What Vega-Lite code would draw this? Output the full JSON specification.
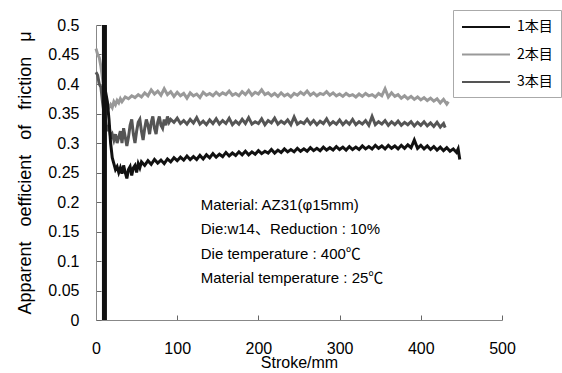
{
  "$schema": "https://vega.github.io/schema/vega-lite/v6.json",
  "width": 406,
  "height": 295,
  "autosize": {"type": "none"},
  "padding": {"left": 96, "top": 25, "right": 60, "bottom": 53},
  "background": "white",
  "config": {
    "view": {"stroke": null},
    "font": "Liberation Sans",
    "axis": {
      "grid": false,
      "domainColor": "#888",
      "tickColor": "#666",
      "labelColor": "#000",
      "titleColor": "#000",
      "labelFont": "Liberation Sans",
      "titleFont": "Liberation Sans",
      "labelFontSize": 16,
      "titleFontSize": 16,
      "titleFontWeight": "normal",
      "tickSize": -5,
      "labelOverlap": false,
      "labelFlush": false
    }
  },
  "datasets": {
    "spike": [{"run": "1本目", "s": 10.4, "lo": 0, "hi": 0.5}],
    "curves": [
      {"run":"2本目","s":0,"mu":0.46},{"run":"2本目","s":2,"mu":0.45},{"run":"2本目","s":4,"mu":0.445},{"run":"2本目","s":6,"mu":0.43},{"run":"2本目","s":8,"mu":0.41},{"run":"2本目","s":10,"mu":0.39},{"run":"2本目","s":12,"mu":0.375},{"run":"2本目","s":14,"mu":0.365},{"run":"2本目","s":16,"mu":0.36},{"run":"2本目","s":18,"mu":0.365},{"run":"2本目","s":20,"mu":0.36},{"run":"2本目","s":22,"mu":0.37},{"run":"2本目","s":24,"mu":0.365},{"run":"2本目","s":26,"mu":0.372},{"run":"2本目","s":28,"mu":0.368},{"run":"2本目","s":30,"mu":0.375},
      {"run":"2本目","s":32,"mu":0.37},{"run":"2本目","s":36,"mu":0.378},{"run":"2本目","s":40,"mu":0.375},{"run":"2本目","s":44,"mu":0.38},{"run":"2本目","s":48,"mu":0.377},{"run":"2本目","s":52,"mu":0.382},{"run":"2本目","s":56,"mu":0.378},{"run":"2本目","s":60,"mu":0.385},{"run":"2本目","s":64,"mu":0.38},{"run":"2本目","s":68,"mu":0.39},{"run":"2本目","s":72,"mu":0.383},{"run":"2本目","s":76,"mu":0.388},{"run":"2本目","s":80,"mu":0.381},{"run":"2本目","s":84,"mu":0.392},{"run":"2本目","s":88,"mu":0.382},{"run":"2本目","s":92,"mu":0.387},{"run":"2本目","s":96,"mu":0.379},{"run":"2本目","s":100,"mu":0.386},{"run":"2本目","s":104,"mu":0.38},{"run":"2本目","s":108,"mu":0.384},{"run":"2本目","s":112,"mu":0.376},{"run":"2本目","s":116,"mu":0.385},{"run":"2本目","s":120,"mu":0.38},{"run":"2本目","s":124,"mu":0.383},{"run":"2本目","s":128,"mu":0.377},{"run":"2本目","s":132,"mu":0.386},{"run":"2本目","s":136,"mu":0.381},{"run":"2本目","s":140,"mu":0.384},{"run":"2本目","s":144,"mu":0.38},{"run":"2本目","s":148,"mu":0.386},{"run":"2本目","s":152,"mu":0.381},{"run":"2本目","s":156,"mu":0.385},{"run":"2本目","s":160,"mu":0.382},{"run":"2本目","s":164,"mu":0.388},{"run":"2本目","s":168,"mu":0.381},{"run":"2本目","s":172,"mu":0.384},{"run":"2本目","s":176,"mu":0.38},{"run":"2本目","s":180,"mu":0.387},{"run":"2本目","s":184,"mu":0.382},{"run":"2本目","s":188,"mu":0.389},{"run":"2本目","s":192,"mu":0.381},{"run":"2本目","s":196,"mu":0.386},{"run":"2本目","s":200,"mu":0.383},{"run":"2本目","s":204,"mu":0.39},{"run":"2本目","s":208,"mu":0.382},{"run":"2本目","s":212,"mu":0.385},{"run":"2本目","s":216,"mu":0.38},{"run":"2本目","s":220,"mu":0.384},{"run":"2本目","s":224,"mu":0.379},{"run":"2本目","s":228,"mu":0.385},{"run":"2本目","s":232,"mu":0.38},{"run":"2本目","s":236,"mu":0.383},{"run":"2本目","s":240,"mu":0.378},{"run":"2本目","s":244,"mu":0.384},{"run":"2本目","s":248,"mu":0.381},{"run":"2本目","s":252,"mu":0.386},{"run":"2本目","s":256,"mu":0.382},{"run":"2本目","s":260,"mu":0.388},{"run":"2本目","s":264,"mu":0.381},{"run":"2本目","s":268,"mu":0.385},{"run":"2本目","s":272,"mu":0.38},{"run":"2本目","s":276,"mu":0.384},{"run":"2本目","s":280,"mu":0.382},{"run":"2本目","s":284,"mu":0.387},{"run":"2本目","s":288,"mu":0.381},{"run":"2本目","s":292,"mu":0.385},{"run":"2本目","s":296,"mu":0.38},{"run":"2本目","s":300,"mu":0.383},{"run":"2本目","s":304,"mu":0.379},{"run":"2本目","s":308,"mu":0.384},{"run":"2本目","s":312,"mu":0.38},{"run":"2本目","s":316,"mu":0.382},{"run":"2本目","s":320,"mu":0.378},{"run":"2本目","s":324,"mu":0.383},{"run":"2本目","s":328,"mu":0.379},{"run":"2本目","s":332,"mu":0.384},{"run":"2本目","s":336,"mu":0.38},{"run":"2本目","s":340,"mu":0.382},{"run":"2本目","s":344,"mu":0.378},{"run":"2本目","s":348,"mu":0.384},{"run":"2本目","s":352,"mu":0.38},{"run":"2本目","s":356,"mu":0.392},{"run":"2本目","s":360,"mu":0.378},{"run":"2本目","s":364,"mu":0.385},{"run":"2本目","s":368,"mu":0.379},{"run":"2本目","s":372,"mu":0.382},{"run":"2本目","s":376,"mu":0.376},{"run":"2本目","s":380,"mu":0.38},{"run":"2本目","s":384,"mu":0.375},{"run":"2本目","s":388,"mu":0.379},{"run":"2本目","s":392,"mu":0.374},{"run":"2本目","s":396,"mu":0.378},{"run":"2本目","s":400,"mu":0.373},{"run":"2本目","s":404,"mu":0.377},{"run":"2本目","s":408,"mu":0.372},{"run":"2本目","s":412,"mu":0.376},{"run":"2本目","s":416,"mu":0.371},{"run":"2本目","s":420,"mu":0.375},{"run":"2本目","s":424,"mu":0.368},{"run":"2本目","s":428,"mu":0.374},{"run":"2本目","s":432,"mu":0.366},{"run":"2本目","s":434,"mu":0.37},

      {"run":"3本目","s":0,"mu":0.42},{"run":"3本目","s":2,"mu":0.415},{"run":"3本目","s":4,"mu":0.4},{"run":"3本目","s":6,"mu":0.395},{"run":"3本目","s":8,"mu":0.37},{"run":"3本目","s":10,"mu":0.35},{"run":"3本目","s":12,"mu":0.335},{"run":"3本目","s":14,"mu":0.32},{"run":"3本目","s":16,"mu":0.33},{"run":"3本目","s":18,"mu":0.31},{"run":"3本目","s":20,"mu":0.315},{"run":"3本目","s":22,"mu":0.305},{"run":"3本目","s":24,"mu":0.315},{"run":"3本目","s":26,"mu":0.3},{"run":"3本目","s":28,"mu":0.31},{"run":"3本目","s":30,"mu":0.32},{"run":"3本目","s":32,"mu":0.3},{"run":"3本目","s":34,"mu":0.325},{"run":"3本目","s":36,"mu":0.31},{"run":"3本目","s":38,"mu":0.295},{"run":"3本目","s":40,"mu":0.31},{"run":"3本目","s":42,"mu":0.33},{"run":"3本目","s":44,"mu":0.34},{"run":"3本目","s":46,"mu":0.315},{"run":"3本目","s":48,"mu":0.3},{"run":"3本目","s":50,"mu":0.32},{"run":"3本目","s":52,"mu":0.335},{"run":"3本目","s":54,"mu":0.34},{"run":"3本目","s":56,"mu":0.32},{"run":"3本目","s":58,"mu":0.305},{"run":"3本目","s":60,"mu":0.325},{"run":"3本目","s":62,"mu":0.34},{"run":"3本目","s":64,"mu":0.33},{"run":"3本目","s":66,"mu":0.315},{"run":"3本目","s":68,"mu":0.335},{"run":"3本目","s":70,"mu":0.345},{"run":"3本目","s":72,"mu":0.325},{"run":"3本目","s":74,"mu":0.315},{"run":"3本目","s":76,"mu":0.335},{"run":"3本目","s":78,"mu":0.345},{"run":"3本目","s":80,"mu":0.33},{"run":"3本目","s":82,"mu":0.325},{"run":"3本目","s":84,"mu":0.34},{"run":"3本目","s":86,"mu":0.33},{"run":"3本目","s":88,"mu":0.345},{"run":"3本目","s":90,"mu":0.335},{"run":"3本目","s":92,"mu":0.34},{"run":"3本目","s":96,"mu":0.335},{"run":"3本目","s":100,"mu":0.342},{"run":"3本目","s":104,"mu":0.333},{"run":"3本目","s":108,"mu":0.338},{"run":"3本目","s":112,"mu":0.332},{"run":"3本目","s":116,"mu":0.34},{"run":"3本目","s":120,"mu":0.334},{"run":"3本目","s":124,"mu":0.343},{"run":"3本目","s":128,"mu":0.332},{"run":"3本目","s":132,"mu":0.337},{"run":"3本目","s":136,"mu":0.331},{"run":"3本目","s":140,"mu":0.339},{"run":"3本目","s":144,"mu":0.333},{"run":"3本目","s":148,"mu":0.341},{"run":"3本目","s":152,"mu":0.332},{"run":"3本目","s":156,"mu":0.338},{"run":"3本目","s":160,"mu":0.333},{"run":"3本目","s":164,"mu":0.342},{"run":"3本目","s":168,"mu":0.331},{"run":"3本目","s":172,"mu":0.337},{"run":"3本目","s":176,"mu":0.332},{"run":"3本目","s":180,"mu":0.34},{"run":"3本目","s":184,"mu":0.333},{"run":"3本目","s":188,"mu":0.343},{"run":"3本目","s":192,"mu":0.332},{"run":"3本目","s":196,"mu":0.336},{"run":"3本目","s":200,"mu":0.333},{"run":"3本目","s":204,"mu":0.341},{"run":"3本目","s":208,"mu":0.331},{"run":"3本目","s":212,"mu":0.338},{"run":"3本目","s":216,"mu":0.334},{"run":"3本目","s":220,"mu":0.342},{"run":"3本目","s":224,"mu":0.332},{"run":"3本目","s":228,"mu":0.337},{"run":"3本目","s":232,"mu":0.333},{"run":"3本目","s":236,"mu":0.339},{"run":"3本目","s":240,"mu":0.331},{"run":"3本目","s":244,"mu":0.344},{"run":"3本目","s":248,"mu":0.332},{"run":"3本目","s":252,"mu":0.336},{"run":"3本目","s":256,"mu":0.333},{"run":"3本目","s":260,"mu":0.34},{"run":"3本目","s":264,"mu":0.332},{"run":"3本目","s":268,"mu":0.338},{"run":"3本目","s":272,"mu":0.331},{"run":"3本目","s":276,"mu":0.337},{"run":"3本目","s":280,"mu":0.333},{"run":"3本目","s":284,"mu":0.341},{"run":"3本目","s":288,"mu":0.331},{"run":"3本目","s":292,"mu":0.336},{"run":"3本目","s":296,"mu":0.332},{"run":"3本目","s":300,"mu":0.339},{"run":"3本目","s":304,"mu":0.331},{"run":"3本目","s":308,"mu":0.337},{"run":"3本目","s":312,"mu":0.332},{"run":"3本目","s":316,"mu":0.34},{"run":"3本目","s":320,"mu":0.331},{"run":"3本目","s":324,"mu":0.336},{"run":"3本目","s":328,"mu":0.332},{"run":"3本目","s":332,"mu":0.338},{"run":"3本目","s":336,"mu":0.33},{"run":"3本目","s":340,"mu":0.345},{"run":"3本目","s":344,"mu":0.331},{"run":"3本目","s":348,"mu":0.336},{"run":"3本目","s":352,"mu":0.332},{"run":"3本目","s":356,"mu":0.338},{"run":"3本目","s":360,"mu":0.33},{"run":"3本目","s":364,"mu":0.336},{"run":"3本目","s":368,"mu":0.331},{"run":"3本目","s":372,"mu":0.337},{"run":"3本目","s":376,"mu":0.33},{"run":"3本目","s":380,"mu":0.335},{"run":"3本目","s":384,"mu":0.331},{"run":"3本目","s":388,"mu":0.336},{"run":"3本目","s":392,"mu":0.329},{"run":"3本目","s":396,"mu":0.335},{"run":"3本目","s":400,"mu":0.33},{"run":"3本目","s":404,"mu":0.336},{"run":"3本目","s":408,"mu":0.329},{"run":"3本目","s":412,"mu":0.334},{"run":"3本目","s":416,"mu":0.328},{"run":"3本目","s":420,"mu":0.335},{"run":"3本目","s":424,"mu":0.327},{"run":"3本目","s":428,"mu":0.333},{"run":"3本目","s":430,"mu":0.326},

      {"run":"1本目","s":10,"mu":0.4},{"run":"1本目","s":12,"mu":0.385},{"run":"1本目","s":14,"mu":0.37},{"run":"1本目","s":16,"mu":0.34},{"run":"1本目","s":18,"mu":0.3},{"run":"1本目","s":20,"mu":0.275},{"run":"1本目","s":22,"mu":0.265},{"run":"1本目","s":24,"mu":0.255},{"run":"1本目","s":26,"mu":0.26},{"run":"1本目","s":28,"mu":0.25},{"run":"1本目","s":30,"mu":0.258},{"run":"1本目","s":32,"mu":0.248},{"run":"1本目","s":34,"mu":0.262},{"run":"1本目","s":36,"mu":0.25},{"run":"1本目","s":38,"mu":0.24},{"run":"1本目","s":40,"mu":0.255},{"run":"1本目","s":42,"mu":0.26},{"run":"1本目","s":44,"mu":0.245},{"run":"1本目","s":46,"mu":0.258},{"run":"1本目","s":48,"mu":0.262},{"run":"1本目","s":50,"mu":0.25},{"run":"1本目","s":52,"mu":0.265},{"run":"1本目","s":54,"mu":0.258},{"run":"1本目","s":56,"mu":0.268},{"run":"1本目","s":60,"mu":0.262},{"run":"1本目","s":64,"mu":0.27},{"run":"1本目","s":68,"mu":0.264},{"run":"1本目","s":72,"mu":0.272},{"run":"1本目","s":76,"mu":0.266},{"run":"1本目","s":80,"mu":0.271},{"run":"1本目","s":84,"mu":0.265},{"run":"1本目","s":88,"mu":0.273},{"run":"1本目","s":92,"mu":0.268},{"run":"1本目","s":96,"mu":0.275},{"run":"1本目","s":100,"mu":0.27},{"run":"1本目","s":104,"mu":0.276},{"run":"1本目","s":108,"mu":0.271},{"run":"1本目","s":112,"mu":0.278},{"run":"1本目","s":116,"mu":0.272},{"run":"1本目","s":120,"mu":0.277},{"run":"1本目","s":124,"mu":0.272},{"run":"1本目","s":128,"mu":0.279},{"run":"1本目","s":132,"mu":0.273},{"run":"1本目","s":136,"mu":0.28},{"run":"1本目","s":140,"mu":0.275},{"run":"1本目","s":144,"mu":0.282},{"run":"1本目","s":148,"mu":0.276},{"run":"1本目","s":152,"mu":0.281},{"run":"1本目","s":156,"mu":0.277},{"run":"1本目","s":160,"mu":0.284},{"run":"1本目","s":164,"mu":0.278},{"run":"1本目","s":168,"mu":0.283},{"run":"1本目","s":172,"mu":0.279},{"run":"1本目","s":176,"mu":0.285},{"run":"1本目","s":180,"mu":0.28},{"run":"1本目","s":184,"mu":0.286},{"run":"1本目","s":188,"mu":0.28},{"run":"1本目","s":192,"mu":0.285},{"run":"1本目","s":196,"mu":0.281},{"run":"1本目","s":200,"mu":0.287},{"run":"1本目","s":204,"mu":0.282},{"run":"1本目","s":208,"mu":0.286},{"run":"1本目","s":212,"mu":0.283},{"run":"1本目","s":216,"mu":0.289},{"run":"1本目","s":220,"mu":0.283},{"run":"1本目","s":224,"mu":0.288},{"run":"1本目","s":228,"mu":0.284},{"run":"1本目","s":232,"mu":0.29},{"run":"1本目","s":236,"mu":0.285},{"run":"1本目","s":240,"mu":0.289},{"run":"1本目","s":244,"mu":0.285},{"run":"1本目","s":248,"mu":0.291},{"run":"1本目","s":252,"mu":0.286},{"run":"1本目","s":256,"mu":0.29},{"run":"1本目","s":260,"mu":0.286},{"run":"1本目","s":264,"mu":0.292},{"run":"1本目","s":268,"mu":0.287},{"run":"1本目","s":272,"mu":0.291},{"run":"1本目","s":276,"mu":0.287},{"run":"1本目","s":280,"mu":0.293},{"run":"1本目","s":284,"mu":0.288},{"run":"1本目","s":288,"mu":0.292},{"run":"1本目","s":292,"mu":0.288},{"run":"1本目","s":296,"mu":0.294},{"run":"1本目","s":300,"mu":0.289},{"run":"1本目","s":304,"mu":0.293},{"run":"1本目","s":308,"mu":0.288},{"run":"1本目","s":312,"mu":0.294},{"run":"1本目","s":316,"mu":0.289},{"run":"1本目","s":320,"mu":0.293},{"run":"1本目","s":324,"mu":0.289},{"run":"1本目","s":328,"mu":0.295},{"run":"1本目","s":332,"mu":0.29},{"run":"1本目","s":336,"mu":0.294},{"run":"1本目","s":340,"mu":0.29},{"run":"1本目","s":344,"mu":0.296},{"run":"1本目","s":348,"mu":0.291},{"run":"1本目","s":352,"mu":0.295},{"run":"1本目","s":356,"mu":0.29},{"run":"1本目","s":360,"mu":0.296},{"run":"1本目","s":364,"mu":0.291},{"run":"1本目","s":368,"mu":0.295},{"run":"1本目","s":372,"mu":0.29},{"run":"1本目","s":376,"mu":0.296},{"run":"1本目","s":380,"mu":0.291},{"run":"1本目","s":384,"mu":0.297},{"run":"1本目","s":388,"mu":0.292},{"run":"1本目","s":392,"mu":0.305},{"run":"1本目","s":396,"mu":0.291},{"run":"1本目","s":400,"mu":0.296},{"run":"1本目","s":404,"mu":0.29},{"run":"1本目","s":408,"mu":0.295},{"run":"1本目","s":412,"mu":0.289},{"run":"1本目","s":416,"mu":0.294},{"run":"1本目","s":420,"mu":0.288},{"run":"1本目","s":424,"mu":0.293},{"run":"1本目","s":428,"mu":0.287},{"run":"1本目","s":432,"mu":0.292},{"run":"1本目","s":436,"mu":0.286},{"run":"1本目","s":440,"mu":0.29},{"run":"1本目","s":444,"mu":0.284},{"run":"1本目","s":446,"mu":0.29},{"run":"1本目","s":448,"mu":0.272}
    ],
    "notes": [{"label": ["Material: AZ31(φ15mm)", "Die:w14、Reduction : 10%", "Die temperature : 400℃", "Material temperature : 25℃"]}]
  },
  "layer": [
    {
      "data": {"name": "curves"},
      "mark": {"type": "line", "strokeWidth": 3, "clip": false},
      "encoding": {
        "x": {
          "field": "s", "type": "quantitative",
          "scale": {"domain": [0, 500], "nice": false},
          "axis": {"values": [0, 100, 200, 300, 400, 500], "title": "Stroke/mm", "labelPadding": 25, "titlePadding": -2, "labelAngle": 0}
        },
        "y": {
          "field": "mu", "type": "quantitative",
          "scale": {"domain": [0, 0.5], "nice": false, "zero": true},
          "axis": {"values": [0, 0.05, 0.1, 0.15, 0.2, 0.25, 0.3, 0.35, 0.4, 0.45, 0.5], "format": ".2~f", "title": "Apparent\u00a0\u00a0 oefficient\u00a0\u00a0 of\u00a0\u00a0 friction\u00a0\u00a0 μ", "titleFontSize": 18, "labelPadding": 22, "titlePadding": 13}
        },
        "color": {
          "field": "run", "type": "nominal",
          "scale": {"domain": ["1本目", "2本目", "3本目"], "range": ["#111111", "#999999", "#555555"]},
          "legend": {
            "title": null, "orient": "none", "legendX": 357, "legendY": -15,
            "strokeColor": "#aaaaaa", "fillColor": "white", "padding": 8,
            "symbolType": "M-3,0L3,0", "symbolSize": 256, "symbolStrokeWidth": 2, "symbolOffset": 16,
            "labelFont": "Noto Sans CJK JP", "labelFontSize": 14, "rowPadding": 11.5, "labelOffset": 22
          }
        }
      }
    },
    {
      "data": {"name": "spike"},
      "mark": {"type": "rule", "strokeWidth": 5, "color": "#111111"},
      "encoding": {
        "x": {"field": "s", "type": "quantitative",
          "axis": {"values": [0, 100, 200, 300, 400, 500], "title": "Stroke/mm", "labelPadding": 25, "titlePadding": -2, "labelAngle": 0}},
        "y": {"field": "lo", "type": "quantitative",
          "axis": {"values": [0, 0.05, 0.1, 0.15, 0.2, 0.25, 0.3, 0.35, 0.4, 0.45, 0.5], "format": ".2~f", "title": "Apparent\u00a0\u00a0 oefficient\u00a0\u00a0 of\u00a0\u00a0 friction\u00a0\u00a0 μ", "titleFontSize": 18, "labelPadding": 22, "titlePadding": 13}},
        "y2": {"field": "hi"}
      }
    },
    {
      "data": {"name": "notes"},
      "mark": {"type": "text", "align": "left", "baseline": "middle", "fontSize": 15, "lineHeight": 24.5, "font": "Liberation Sans, Noto Sans CJK JP", "color": "#000"},
      "encoding": {
        "x": {"datum": 129,
          "axis": {"values": [0, 100, 200, 300, 400, 500], "title": "Stroke/mm", "labelPadding": 25, "titlePadding": -2, "labelAngle": 0}},
        "y": {"datum": 0.195,
          "axis": {"values": [0, 0.05, 0.1, 0.15, 0.2, 0.25, 0.3, 0.35, 0.4, 0.45, 0.5], "format": ".2~f", "title": "Apparent\u00a0\u00a0 oefficient\u00a0\u00a0 of\u00a0\u00a0 friction\u00a0\u00a0 μ", "titleFontSize": 18, "labelPadding": 22, "titlePadding": 13}},
        "text": {"field": "label"}
      }
    }
  ]
}
